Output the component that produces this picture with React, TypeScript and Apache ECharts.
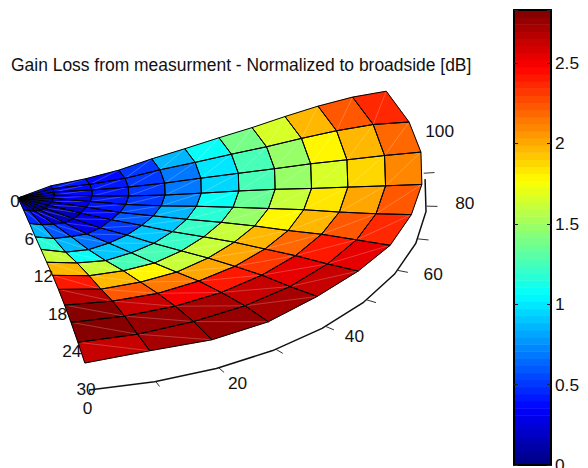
import React, { useEffect, useRef } from "react";
import * as echarts from "echarts";

const titleText = "Gain Loss from measurment - Normalized to broadside [dB]";
const radii = [0, 2.7, 5.5, 8.2, 10.9, 13.6, 16.4, 19.1, 21.8, 24.5, 27.3, 30];
const spokes = [0, 9.8, 19.6, 29.4, 39.2, 49, 58.8, 68.6, 78.4, 88.2, 98, 107.7];
const gain = [
  [0.2, 0.12, 0.08, 0.08, 0.1, 0.12, 0.17, 0.2, 0.22, 0.25, 0.28, 0.28],
  [0.47, 0.33, 0.2, 0.15, 0.15, 0.2, 0.28, 0.33, 0.36, 0.38, 0.42, 0.42],
  [0.85, 0.6, 0.45, 0.28, 0.28, 0.36, 0.42, 0.42, 0.4, 0.4, 0.38, 0.38],
  [1.18, 0.85, 0.7, 0.5, 0.5, 0.6, 0.55, 0.52, 0.5, 0.5, 0.5, 0.5],
  [1.6, 1.1, 0.9, 0.9, 0.9, 0.92, 0.85, 0.75, 0.68, 0.7, 0.85, 0.85],
  [1.98, 1.6, 1.28, 1.25, 1.2, 1.2, 1.15, 1.07, 0.95, 0.98, 1.1, 1.1],
  [2.4, 1.98, 1.78, 1.6, 1.6, 1.6, 1.5, 1.35, 1.25, 1.25, 1.4, 1.4],
  [2.68, 2.25, 2.13, 2.0, 2.0, 1.95, 1.78, 1.6, 1.5, 1.5, 1.65, 1.65],
  [2.82, 2.65, 2.48, 2.42, 2.3, 2.18, 1.98, 1.85, 1.68, 1.78, 1.98, 1.98],
  [2.82, 2.78, 2.7, 2.62, 2.55, 2.42, 2.25, 2.0, 1.9, 1.98, 2.25, 2.25],
  [2.65, 2.7, 2.75, 2.7, 2.62, 2.55, 2.38, 2.22, 2.12, 2.2, 2.38, 2.38],
  [2.35, 2.7, 2.5, 2.5, 2.78, 2.75, 2.5, 2.5, 2.35, 2.35, 2.2, 2.26],
];
const phiTicks = [0, 10, 20, 30, 40, 50, 60, 70, 80, 90];
const phiLabels = [0, 20, 40, 60, 80, 100];
const thetaLabels = [0, 6, 12, 18, 24, 30];
const colorbarLabels = [0, 0.5, 1, 1.5, 2, 2.5];
const gainMax = 2.83;
const levels = 64;

const FONT = "Liberation Sans";
const LABEL_SIZE = 17.3;
const PHI_START = 80;
const PHI_SCALE = 0.97;
const LIFT_Y = 1.77;
const LIFT_X = 0.13;

function jet(v: number) {
  const t = Math.max(0, Math.min(1, v));
  const c = (x: number) => Math.round(255 * Math.max(0, Math.min(1, 1.5 - Math.abs(4 * t - x))));
  return `rgb(${c(3)},${c(2)},${c(1)})`;
}
const levelColor = (v: number) => {
  const idx = Math.min(levels - 1, Math.floor((v / gainMax) * levels));
  return jet((idx + 0.5) / levels);
};
const toXY = (r: number, p: number, z: number) => {
  const a = ((PHI_START - PHI_SCALE * p) * Math.PI) / 180;
  return [r * Math.cos(a) - LIFT_X * z, r * Math.sin(a) - LIFT_Y * z];
};

export default function App() {
  const ref = useRef<HTMLDivElement>(null);
  useEffect(() => {
    const chart = echarts.init(ref.current!, undefined, { renderer: "svg" });
    const vertex = (api: any, i: number, j: number) =>
      api.coord(toXY(radii[i], spokes[j], i === 0 ? 0 : gain[i][j]));
    const cells: number[][] = [];
    for (let i = 0; i < radii.length - 1; i++)
      for (let j = 0; j < spokes.length - 1; j++) cells.push([i, j]);
    const corners = (api: any) => {
      const i = api.value(0);
      const j = api.value(1);
      return [vertex(api, i, j), vertex(api, i + 1, j), vertex(api, i + 1, j + 1), vertex(api, i, j + 1)];
    };
    const base = { type: "custom", silent: true, xAxisIndex: 0, yAxisIndex: 0, clip: false };
    const boxLine = { show: true, onZero: false, lineStyle: { color: "#000", width: 2 } };
    const textFont = `${LABEL_SIZE}px "${FONT}"`;
    const option: any = {
      animation: false,
      backgroundColor: "#fff",
      title: {
        text: titleText,
        left: 6,
        top: 51,
        textStyle: { fontFamily: FONT, fontSize: 17.45, fontWeight: "normal", color: "#111" },
      },
      grid: [
        { left: 18, top: 3, width: 409, height: 390 },
        { left: 514, top: 10, width: 37, height: 455 },
      ],
      xAxis: [
        { type: "value", min: 0, max: 30, show: false, gridIndex: 0 },
        { type: "value", min: 0, max: 1, gridIndex: 1, position: "bottom", z: 5, axisLine: boxLine, axisTick: { show: false }, axisLabel: { show: false }, splitLine: { show: false } },
        { type: "value", min: 0, max: 1, gridIndex: 1, position: "top", z: 5, axisLine: boxLine, axisTick: { show: false }, axisLabel: { show: false }, splitLine: { show: false } },
      ],
      yAxis: [
        { type: "value", min: -30, max: 30, inverse: true, show: false, gridIndex: 0 },
        {
          type: "value", min: 0, max: gainMax, interval: 0.5, gridIndex: 1, position: "right", z: 5,
          axisLine: boxLine,
          axisTick: { show: true, inside: true, length: 4, lineStyle: { color: "#222" } },
          axisLabel: { show: false },
          splitLine: { show: false },
        },
        {
          type: "value", min: 0, max: gainMax, interval: 0.5, gridIndex: 1, position: "left", z: 5,
          axisLine: boxLine,
          axisTick: { show: true, inside: true, length: 4, lineStyle: { color: "#222" } },
          axisLabel: { show: false },
          splitLine: { show: false },
        },
      ],
      series: [
        {
          ...base,
          data: [0],
          renderItem: (_: any, api: any) => ({
            type: "polyline",
            shape: { points: spokes.slice(0, 10).map((p) => api.coord(toXY(30, p, 0))) },
            style: { fill: "none", stroke: "#111", lineWidth: 1.5 },
          }),
        },
        {
          ...base,
          data: phiTicks,
          renderItem: (_: any, api: any) => {
            const p = api.value(0);
            const a = api.coord(toXY(30, p, 0));
            const b = api.coord(toXY(30.8, p, 0));
            return { type: "line", shape: { x1: a[0], y1: a[1], x2: b[0], y2: b[1] }, style: { stroke: "#333", lineWidth: 1 } };
          },
        },
        {
          ...base,
          data: cells,
          renderItem: (_: any, api: any) => {
            const i = api.value(0);
            const j = api.value(1);
            const c = levelColor(gain[i][j]);
            return { type: "polygon", shape: { points: corners(api) }, style: { fill: c, stroke: c, lineWidth: 0.5 } };
          },
        },
        {
          ...base,
          data: cells,
          renderItem: (_: any, api: any) => {
            const q = corners(api);
            return { type: "line", shape: { x1: q[0][0], y1: q[0][1], x2: q[2][0], y2: q[2][1] }, style: { stroke: "rgba(255,255,255,0.22)", lineWidth: 1 } };
          },
        },
        {
          ...base,
          data: cells,
          renderItem: (_: any, api: any) => ({
            type: "polygon",
            shape: { points: corners(api) },
            style: { fill: "none", stroke: "#000", lineWidth: 1 },
          }),
        },
        {
          ...base,
          data: phiLabels,
          renderItem: (_: any, api: any) => {
            const p = api.value(0);
            const c = api.coord(toXY(32.8, p, 0));
            const dx = p === 0 ? -8 : p === 100 ? -6 : 0;
            return {
              type: "text",
              style: { text: String(p), x: c[0] + dx, y: c[1] - p / 20, align: "center", verticalAlign: "middle", fill: "#111", font: textFont },
            };
          },
        },
        {
          ...base,
          data: thetaLabels,
          renderItem: (_: any, api: any) => {
            const t = api.value(0);
            const c = api.coord(toXY(t, 0, 0));
            return {
              type: "text",
              style: { text: String(t), x: c[0] - 3, y: c[1] + 3 - t * 0.14, align: "center", verticalAlign: "middle", fill: "#111", font: textFont },
            };
          },
        },
        {
          type: "custom",
          silent: true,
          xAxisIndex: 1,
          yAxisIndex: 1,
          data: Array.from({ length: levels }, (_, k) => k),
          renderItem: (_: any, api: any) => {
            const k = api.value(0);
            const v0 = (k / levels) * gainMax;
            const v1 = ((k + 1) / levels) * gainMax;
            const a = api.coord([0, v1]);
            const b = api.coord([1, v0]);
            return { type: "rect", shape: { x: a[0], y: a[1], width: b[0] - a[0], height: b[1] - a[1] + 0.6 }, style: { fill: jet((k + 0.5) / levels) } };
          },
        },
        {
          type: "custom",
          silent: true,
          clip: false,
          xAxisIndex: 1,
          yAxisIndex: 1,
          data: colorbarLabels,
          renderItem: (_: any, api: any) => {
            const v = api.value(0);
            const c = api.coord([1, v]);
            return {
              type: "text",
              style: { text: String(v), x: c[0] + 4, y: c[1], align: "left", verticalAlign: "middle", fill: "#111", font: textFont },
            };
          },
        },
      ],
    };
    chart.setOption(option);
    return () => chart.dispose();
  }, []);
  return <div ref={ref} style={{ position: "absolute", left: 0, top: 0, width: 588, height: 468, overflow: "hidden" }} />;
}
